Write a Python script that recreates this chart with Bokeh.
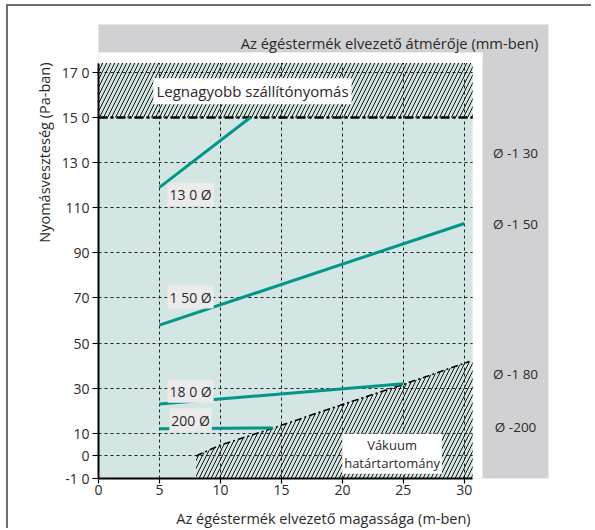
from bokeh.plotting import figure
from bokeh.models import Range1d, FixedTicker, Label, Title
from bokeh.core.properties import value
from bokeh.embed import file_html
from bokeh.resources import INLINE

# ---------------- data ----------------
x_ticks = [0, 5, 10, 15, 20, 25, 30]
y_ticks = [-10, 0, 10, 30, 50, 70, 90, 110, 130, 150, 170]
y_tick_labels = ["-1 0", "0", "10", "30", "50", "70", "90", "110", "13 0", "15 0", "17 0"]

d130_x = [5, 12.45]
d130_y = [119, 150]
d150_x = [5, 30]
d150_y = [58, 103]
d180_x = [5, 25]
d180_y = [23, 32]
d200_x = [5, 14.3]
d200_y = [12, 12.4]

series_labels = ["13 0 Ø", "1 50 Ø", "18 0 Ø", "200 Ø"]
series_label_y = [116, 70.4, 28.7, 15.9]

vac_x = [8, 10, 14.3, 20, 25, 30.4]
vac_y = [0, 4.8, 12.3, 22.8, 31.7, 41.8]

max_pressure = 150
x_min, x_max = 0, 30.68
y_min, y_max = -10, 174.1

right_labels = ["Ø -1 30", "Ø -1 50", "Ø -1 80", "Ø -200"]
right_label_y = [134.1, 102.9, 36.1, 12.8]

header_text = "Az égéstermék elvezető átmérője (mm-ben)"
x_title = "Az égéstermék elvezető magassága (m-ben)"
y_title = "Nyomásveszteség (Pa-ban)"

# ---------------- style ----------------
TEAL_BG = "#d3e6e3"
GRAY = "#d1d1d3"
LINE = "#009688"
FONT = "Open Sans"
TXT = "#2a2a2a"

X_END = 36.9
Y_END = 191.2
col_left = 31.5
header_bottom = 178.9

p = figure(width=585, height=524, output_backend="svg", toolbar_location=None,
           x_range=Range1d(0, X_END), y_range=Range1d(-10, Y_END),
           min_border_left=90, min_border_right=45, min_border_top=18, min_border_bottom=48)
p.outline_line_color = None
p.background_fill_color = TEAL_BG
p.border_fill_color = "white"
p.styles = {"border-top": "2px solid #6e6e6e", "border-left": "2px solid #6e6e6e",
            "margin-left": "6px", "margin-top": "4px"}

# white gaps and gray header/column
p.quad(left=[0, x_max], right=[col_left, col_left], bottom=[y_max, -10], top=[header_bottom, header_bottom],
       fill_color="white", line_color=None)
p.quad(left=[0, col_left], right=[X_END, X_END], bottom=[header_bottom, -10], top=[Y_END, header_bottom],
       fill_color=GRAY, line_color=None)

# grids
p.xgrid.ticker = FixedTicker(ticks=[t for t in x_ticks if t > 0])
p.xgrid.bounds = (y_min, y_max)
p.ygrid.ticker = FixedTicker(ticks=[t for t in y_ticks if t > y_min])
p.ygrid.bounds = (x_min, x_max)
for g in (p.xgrid, p.ygrid):
    g.grid_line_color = "#222222"
    g.grid_line_dash = "3 3"
    g.grid_line_width = 1
    g.grid_line_alpha = 1

# hatched max-pressure zone
p.quad(left=[x_min], right=[x_max], bottom=[max_pressure], top=[y_max],
       fill_color=None, line_color=None, hatch_pattern="/", hatch_color="#111111",
       hatch_weight=1, hatch_scale=8)
p.line([x_min, x_max], [max_pressure, max_pressure], line_color="black", line_width=2.5,
       line_dash="9 3 3 3")

# vacuum zone
slope = (vac_y[-1] - vac_y[-2]) / (vac_x[-1] - vac_x[-2])
edge_y = vac_y[-1] + slope * (x_max - vac_x[-1])
poly_x = [vac_x[0]] + vac_x + [x_max, x_max]
poly_y = [y_min] + vac_y + [edge_y, y_min]
p.patch(poly_x, poly_y, fill_color=None, line_color=None, hatch_pattern="/",
        hatch_color="#111111", hatch_weight=1, hatch_scale=8)
p.line(vac_x, vac_y, line_color="black", line_width=1.6, line_dash="7 3 2 3")

# series
for xs, ys in [(d130_x, d130_y), (d150_x, d150_y), (d180_x, d180_y), (d200_x, d200_y)]:
    p.line(xs, ys, line_color=LINE, line_width=3)

for t, yv in zip(series_labels, series_label_y):
    p.add_layout(Label(x=7.55, y=yv, text=t, text_align="center", text_baseline="middle",
                       text_font=FONT, text_font_size="14px", text_color=TXT,
                       background_fill_color="#ebebeb", padding=2))

p.add_layout(Label(x=4.5, y=161.6, text="Legnagyobb szállítónyomás", text_align="left",
                   text_baseline="middle", text_font=FONT, text_font_size="15px", text_color=TXT,
                   background_fill_color="white", padding=3))
p.add_layout(Label(x=24.07, y=1.0, text="Vákuum\nhatártartomány", text_align="center",
                   text_baseline="middle", text_font=FONT, text_font_size="13px", text_color=TXT,
                   text_line_height=1.0, background_fill_color="white", padding=2))

p.text(x=[34.2] * len(right_labels), y=right_label_y, text=right_labels, text_align="center",
       text_baseline="middle", text_font=value(FONT), text_font_size="13.5px", text_color=TXT)
p.text(x=[36.06], y=[182.9], text=[header_text], text_align="right", text_baseline="middle",
       text_font=value(FONT), text_font_size="14.7px", text_color=TXT)

# axes
p.xaxis.ticker = FixedTicker(ticks=x_ticks)
p.xaxis.bounds = (x_min, x_max)
p.yaxis.ticker = FixedTicker(ticks=y_ticks)
p.yaxis.bounds = (y_min, y_max)
p.yaxis.major_label_overrides = {t: l for t, l in zip(y_ticks, y_tick_labels)}
for ax in (p.xaxis, p.yaxis):
    ax.axis_line_color = "black"
    ax.axis_line_width = 2
    ax.major_tick_line_color = "black"
    ax.major_tick_line_width = 1.2
    ax.major_tick_in = 0
    ax.minor_tick_line_color = None
    ax.major_label_text_font = FONT
    ax.major_label_text_font_size = "14px"
    ax.major_label_text_color = TXT
p.xaxis.major_tick_out = 5
p.yaxis.major_tick_out = 6
p.xaxis.major_label_standoff = 1
p.yaxis.major_label_standoff = 3

p.xaxis.axis_label = x_title
p.xaxis.axis_label_standoff = 11
p.xaxis.axis_label_text_font = FONT
p.xaxis.axis_label_text_font_size = "14.5px"
p.xaxis.axis_label_text_font_style = "normal"
p.xaxis.axis_label_text_color = TXT

p.add_layout(Title(text=y_title, align="right", offset=38, standoff=10, text_font=FONT,
                   text_font_size="14.5px", text_font_style="normal", text_color=TXT), "left")

open("out.html", "w").write(file_html(p, INLINE))
